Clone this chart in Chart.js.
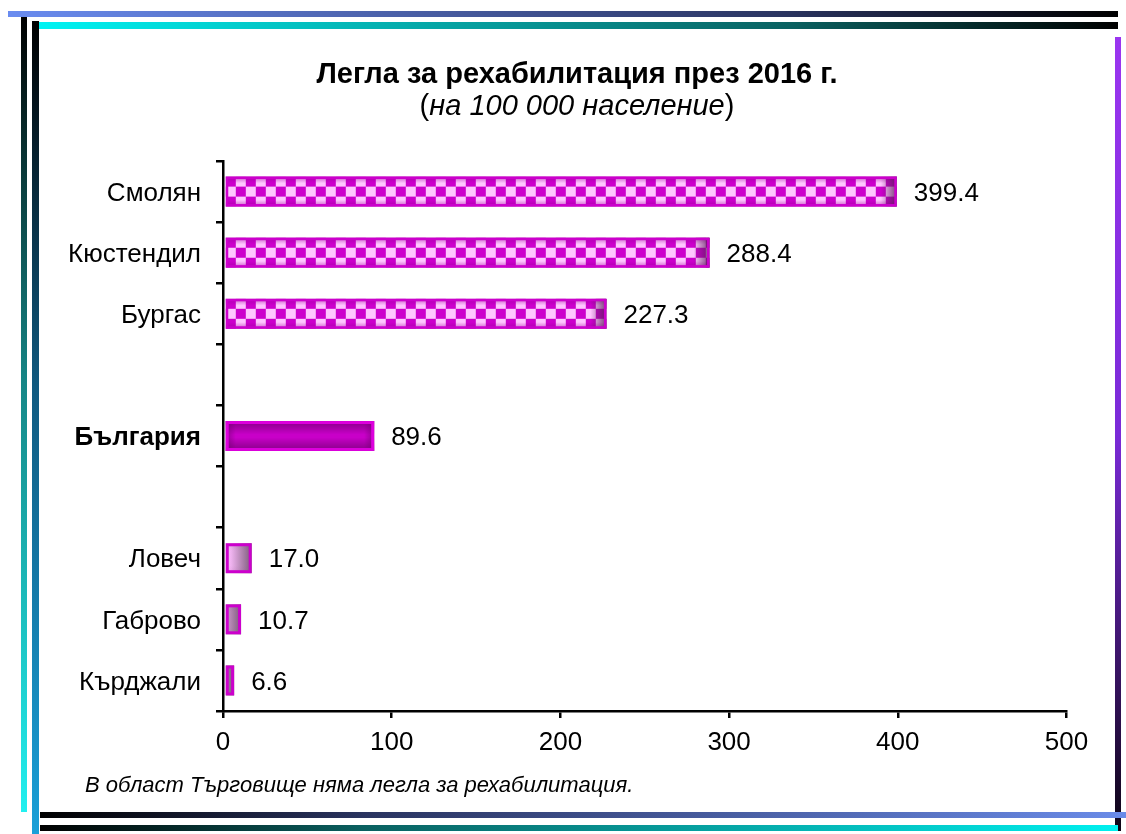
<!DOCTYPE html>
<html lang="bg">
<head>
<meta charset="utf-8">
<title>Легла за рехабилитация през 2016 г.</title>
<script src="https://cdn.jsdelivr.net/npm/chart.js@4.4.1/dist/chart.umd.min.js"></script>
<style>
  html, body { margin: 0; padding: 0; background: #fff; }
  #wrap { position: relative; width: 1126px; height: 834px; overflow: hidden; }
  #chart { position: absolute; left: 0; top: 0; }
  .ln { position: absolute; }
  #t1 { left: 8px; top: 11px; width: 1110px; height: 6px; background: linear-gradient(90deg, #6a8cf0, #2a3460 70%, #000); }
  #t2 { left: 36px; top: 22px; width: 1082px; height: 7px; background: linear-gradient(90deg, #00f4f4, #0a6060 70%, #000); }
  #l1 { left: 21px; top: 17px; width: 6px; height: 795px; background: linear-gradient(180deg, #000, #168484 45%, #22f0f0); }
  #l2 { left: 32px; top: 21px; width: 7px; height: 813px; background: linear-gradient(180deg, #000, #105a80 45%, #1aa0d8); }
  #r1 { left: 1115px; top: 37px; width: 6px; height: 794px; background: linear-gradient(180deg, #9a35f0, #7a2ad8 50%, #0c0414); }
  #b1 { left: 40px; top: 812px; width: 1086px; height: 6px; background: linear-gradient(90deg, #000, #2a3460 30%, #6a8be8); }
  #b2 { left: 40px; top: 825px; width: 1078px; height: 6px; background: linear-gradient(90deg, #000, #0a6060 30%, #00f0f0); }
</style>
</head>
<body>
<div id="wrap">
  <canvas id="chart" width="1126" height="834"></canvas>
  <div class="ln" id="t1"></div>
  <div class="ln" id="t2"></div>
  <div class="ln" id="l1"></div>
  <div class="ln" id="l2"></div>
  <div class="ln" id="r1"></div>
  <div class="ln" id="b1"></div>
  <div class="ln" id="b2"></div>
</div>
<script>
// regions, with two empty rows separating the national average
const categories = ['Смолян', 'Кюстендил', 'Бургас', ' ', 'България', '  ', 'Ловеч', 'Габрово', 'Кърджали'];
const values = [399.4, 288.4, 227.3, null, 89.6, null, 17.0, 10.7, 6.6];
const xTicks = [0, 100, 200, 300, 400, 500];
const fillKinds = ['checker', 'checker', 'checker', null, 'solid', null, 'fade', 'fade', 'fade'];

const titleText = 'Легла за рехабилитация през 2016 г.';
const subtitleParts = ['(', 'на 100 000 население', ')'];
const noteText = 'В област Търговище няма легла за рехабилитация.';

const FONT = 'Arial, "Liberation Sans", sans-serif';

// checkerboard tile for the top three bars
const tile = document.createElement('canvas');
tile.width = 20;
tile.height = 20;
const tctx = tile.getContext('2d');
tctx.fillStyle = '#ffc6ff';
tctx.fillRect(0, 0, 20, 20);
tctx.fillStyle = '#cc00cc';
tctx.fillRect(0, 0, 10, 10);
tctx.fillRect(10, 10, 10, 10);

function vShade(ctx, top, h, rgb, a, inner) {
    const g = ctx.createLinearGradient(0, top, 0, top + h);
    g.addColorStop(0, `rgba(${rgb},${a})`);
    g.addColorStop(inner, `rgba(${rgb},0)`);
    g.addColorStop(1 - inner, `rgba(${rgb},0)`);
    g.addColorStop(1, `rgba(${rgb},${a})`);
    return g;
}

const barPainter = {
    id: 'barPainter',
    afterDatasetsDraw(chart) {
        const ctx = chart.ctx;
        const meta = chart.getDatasetMeta(0);
        meta.data.forEach((bar, i) => {
            const kind = fillKinds[i];
            if (!kind || values[i] == null) return;
            const p = bar.getProps(['x', 'y', 'base', 'height'], true);
            const left = p.base + 1.5;
            const right = p.x;
            const top = p.y - p.height / 2;
            const h = p.height;
            const w = right - left;
            ctx.save();

            if (kind === 'checker') {
                ctx.save();
                ctx.translate(left, top);
                ctx.fillStyle = ctx.createPattern(tile, 'repeat');
                ctx.fillRect(0, 0, w, h);
                ctx.restore();
                ctx.fillStyle = vShade(ctx, top, h, '150,0,150', 0.55, 0.22);
                ctx.fillRect(left, top, w, h);
                const g = ctx.createLinearGradient(right - 16, 0, right, 0);
                g.addColorStop(0, 'rgba(90,30,90,0)');
                g.addColorStop(1, 'rgba(90,30,90,0.8)');
                ctx.fillStyle = g;
                ctx.fillRect(right - 16, top, 16, h);
                ctx.strokeStyle = '#cc00cc';
                ctx.lineWidth = 2.5;
                ctx.strokeRect(left + 1.25, top + 1.25, w - 2.5, h - 2.5);
            } else if (kind === 'solid') {
                ctx.fillStyle = '#c800c8';
                ctx.fillRect(left, top, w, h);
                ctx.fillStyle = vShade(ctx, top, h, '110,0,110', 0.75, 0.45);
                ctx.fillRect(left, top, w, h);
                const g = ctx.createLinearGradient(left, 0, right, 0);
                const e = 10 / w;
                g.addColorStop(0, 'rgba(110,0,110,0.6)');
                g.addColorStop(e, 'rgba(110,0,110,0)');
                g.addColorStop(1 - e, 'rgba(110,0,110,0)');
                g.addColorStop(1, 'rgba(110,0,110,0.6)');
                ctx.fillStyle = g;
                ctx.fillRect(left, top, w, h);
                ctx.strokeStyle = '#dd00dd';
                ctx.lineWidth = 3;
                ctx.strokeRect(left + 1.5, top + 1.5, w - 3, h - 3);
            } else {
                // pink fading to grey over the last 32px before the bar end
                const g = ctx.createLinearGradient(right - 32, 0, right, 0);
                g.addColorStop(0, '#ffc8ff');
                g.addColorStop(0.35, '#f0b4f0');
                g.addColorStop(1, '#7a5a78');
                ctx.fillStyle = g;
                ctx.fillRect(left, top, w, h);
                ctx.fillStyle = vShade(ctx, top, h, '150,60,150', 0.12, 0.25);
                ctx.fillRect(left, top, w, h);
                ctx.strokeStyle = '#cc00cc';
                ctx.lineWidth = 3;
                ctx.strokeRect(left + 1.5, top + 1.5, w - 3, h - 3);
            }

            ctx.fillStyle = '#000';
            ctx.font = `26px ${FONT}`;
            ctx.textAlign = 'left';
            ctx.textBaseline = 'middle';
            ctx.fillText(values[i].toFixed(1), right + 17, p.y + 2);
            ctx.restore();
        });
    }
};

const texts = {
    id: 'texts',
    afterDraw(chart) {
        const ctx = chart.ctx;
        const cx = 577;
        ctx.save();
        ctx.fillStyle = '#000';
        ctx.textBaseline = 'middle';
        ctx.textAlign = 'center';
        ctx.font = `bold 29px ${FONT}`;
        ctx.fillText(titleText, cx, 75);

        // subtitle: brackets upright, inner words italic
        const fonts = [`29px ${FONT}`, `italic 29px ${FONT}`, `29px ${FONT}`];
        let total = 0;
        const widths = subtitleParts.map((s, k) => {
            ctx.font = fonts[k];
            const wd = ctx.measureText(s).width;
            total += wd;
            return wd;
        });
        let x = cx - total / 2;
        ctx.textAlign = 'left';
        subtitleParts.forEach((s, k) => {
            ctx.font = fonts[k];
            ctx.fillText(s, x, 107);
            x += widths[k];
        });

        ctx.font = `italic 22px ${FONT}`;
        ctx.fillText(noteText, 85, 786);
        ctx.restore();
    }
};

new Chart(document.getElementById('chart'), {
    type: 'bar',
    data: {
        labels: categories,
        datasets: [{
            data: values,
            backgroundColor: 'rgba(0,0,0,0)',
            borderWidth: 0,
            categoryPercentage: 1,
            barPercentage: 0.49
        }]
    },
    options: {
        indexAxis: 'y',
        responsive: false,
        animation: false,
        events: [],
        layout: { padding: { top: 161, right: 59.5, bottom: 83, left: 0 } },
        plugins: {
            legend: { display: false },
            tooltip: { enabled: false },
            title: { display: false }
        },
        scales: {
            x: {
                type: 'linear',
                min: xTicks[0],
                max: xTicks[xTicks.length - 1],
                afterBuildTicks: scale => { scale.ticks = xTicks.map(v => ({ value: v })); },
                grid: { drawOnChartArea: false, color: '#000', lineWidth: 2.5, tickLength: 7 },
                border: { color: '#000', width: 2.5 },
                ticks: { color: '#000', padding: 9, font: { family: FONT, size: 26 } },
                afterFit: scale => { scale.height = 40; }
            },
            y: {
                type: 'category',
                offset: true,
                grid: { offset: true, drawOnChartArea: false, color: '#000', lineWidth: 2.5, tickLength: 7 },
                border: { color: '#000', width: 2.5 },
                ticks: {
                    color: '#000',
                    padding: 15,
                    labelOffset: 2,
                    font: ctx => ({
                        family: FONT,
                        size: 26,
                        weight: categories[ctx.index] === 'България' ? 'bold' : 'normal'
                    })
                },
                afterFit: scale => { scale.width = 223; }
            }
        }
    },
    plugins: [barPainter, texts]
});
</script>
</body>
</html>
